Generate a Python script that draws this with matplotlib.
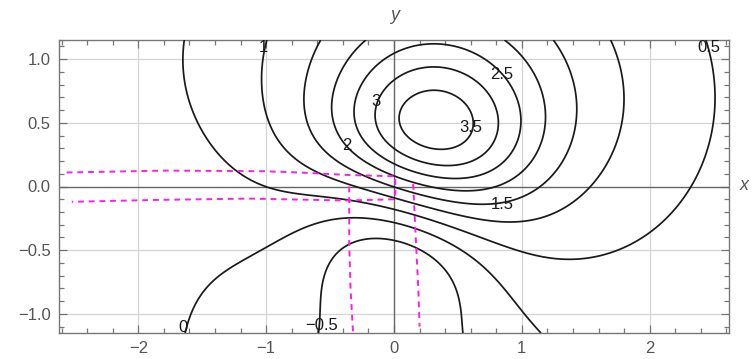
import numpy as np
import matplotlib
matplotlib.use("Agg")
import matplotlib.pyplot as plt
from matplotlib.ticker import MultipleLocator

plt.rcParams["font.family"] = ["Liberation Sans", "DejaVu Sans"]

# ── field: background + four elongated gaussian bumps (read/fitted from the contours) ──
BASE = 0.2805
AMP = [3.2928, -2.3088, 1.9636, -1009.9310]
CX  = [0.1062, -0.0607, 0.2366, 10.1780]
CY  = [0.3012, -0.0735, 0.7980, -29.2277]
L11 = [1.2332, 1.3615, 0.6501, 0.2408]
L21 = [-0.0397, 0.3027, 0.0386, 0.6327]
L22 = [1.5318, 1.2123, 0.8098, 0.2676]

LEVELS = [-0.5, 0, 0.5, 1, 1.5, 2, 2.5, 3, 3.5]
LABEL_TXT = ["1", "0.5", "2.5", "3", "3.5", "2", "1.5", "0", "\u22120.5"]
LABEL_X   = [-1.02, 2.46, 0.84, -0.14, 0.60, -0.37, 0.85, -1.65, -0.57]
LABEL_Y   = [1.09, 1.09, 0.88, 0.67, 0.46, 0.32, -0.14, -1.11, -1.09]

# hand-drawn magenta annotation (strip along the x axis + vertical strip)
STRIP_X = [-2.56, -1.78, -1.02, -0.74, -0.35, 0.01, 0.01, -0.37, -1.13, -1.84, -2.52]
STRIP_Y = [0.11, 0.125, 0.12, 0.11, 0.09, 0.08, -0.10, -0.11, -0.095, -0.105, -0.12]
VLEFT_X = [-0.35, -0.35, -0.34, -0.32]
VLEFT_Y = [0.0, -0.45, -0.80, -1.15]
VRIGHT_X = [0.15, 0.17, 0.19, 0.20]
VRIGHT_Y = [0.02, -0.40, -0.80, -1.10]

XMIN, XMAX, YMIN, YMAX = -2.62, 2.62, -1.15, 1.15
GRAY = "#777777"
MAGENTA = "#ff1ee6"


def field(x, y):
    f = BASE + 0 * x
    for A, cx, cy, a, b, c in zip(AMP, CX, CY, L11, L21, L22):
        dx, dy = x - cx, y - cy
        f = f + A * np.exp(-((a * dx) ** 2 + (b * dx + c * dy) ** 2))
    return f


fig = plt.figure(figsize=(7.52, 3.59), dpi=100)
ax = fig.add_axes([59 / 752, 26 / 359, 670 / 752, 293 / 359])

xx, yy = np.meshgrid(np.linspace(XMIN, XMAX, 500), np.linspace(YMIN, YMAX, 250))
ax.contour(xx, yy, field(xx, yy), levels=LEVELS, colors="#1a1a1a",
           linewidths=1.25, linestyles="solid", zorder=3)

for t, lx, ly in zip(LABEL_TXT, LABEL_X, LABEL_Y):
    ax.text(lx, ly, t, ha="center", va="center", fontsize=12, color="#1a1a1a", zorder=4)

# grid + axes lines
for gx in [-2, -1, 1, 2]:
    ax.axvline(gx, color="#d4d4d4", lw=0.9, zorder=1)
for gy in [-1.0, -0.5, 0.5, 1.0]:
    ax.axhline(gy, color="#d4d4d4", lw=0.9, zorder=1)
ax.axhline(0, color="#666666", lw=1.0, zorder=2)
ax.axvline(0, color="#666666", lw=1.0, zorder=2)

for xs, ys in [(STRIP_X, STRIP_Y), (VLEFT_X, VLEFT_Y), (VRIGHT_X, VRIGHT_Y)]:
    ax.plot(xs, ys, color=MAGENTA, lw=1.4, dashes=(3, 2.5), zorder=5)

ax.set_xlim(XMIN, XMAX)
ax.set_ylim(YMIN, YMAX)
ax.xaxis.set_major_locator(MultipleLocator(1))
ax.xaxis.set_minor_locator(MultipleLocator(0.2))
ax.yaxis.set_major_locator(MultipleLocator(0.5))
ax.yaxis.set_minor_locator(MultipleLocator(0.1))
ax.yaxis.set_major_formatter(lambda v, pos: f"{v:.1f}".replace("-", "\u2212"))
ax.tick_params(which="both", direction="in", top=True, right=True, colors=GRAY,
               labelcolor="#555555", labelsize=12, width=0.9)
ax.tick_params(which="major", length=6, pad=6)
ax.tick_params(which="minor", length=3.5)
for sp in ax.spines.values():
    sp.set_color(GRAY)
    sp.set_linewidth(1.0)

fig.text(395 / 752, 1 - 15 / 359, "y", ha="center", va="center", fontsize=13,
         color="#555555", style="italic")
fig.text(740 / 752, 1 - 186 / 359, "x", ha="left", va="center", fontsize=13,
         color="#555555", style="italic")

fig.savefig("out.png", dpi=100)
